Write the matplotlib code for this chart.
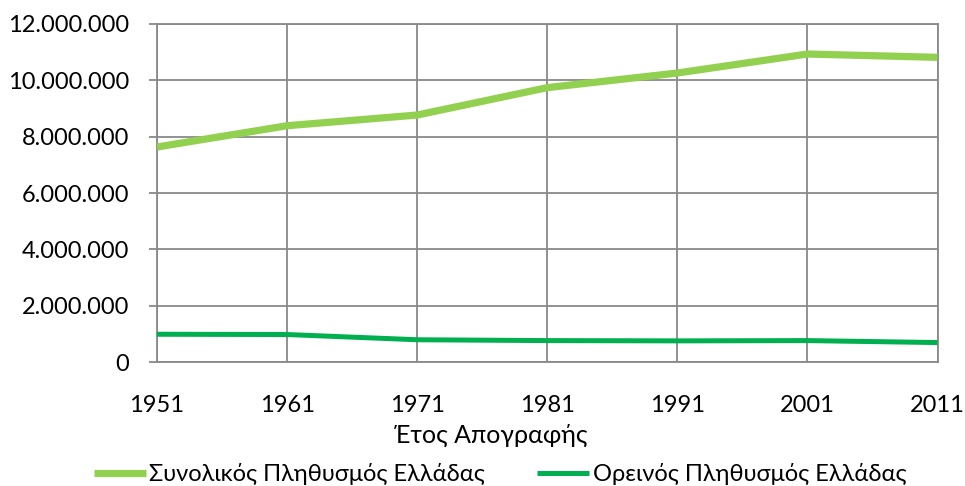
import matplotlib
matplotlib.use("Agg")
import matplotlib.pyplot as plt
from matplotlib.ticker import FuncFormatter

years = [1951, 1961, 1971, 1981, 1991, 2001, 2011]
total_pop = [7632801, 8388553, 8768641, 9740417, 10259900, 10934097, 10816286]
mountain_pop = [985000, 975000, 790000, 760000, 750000, 760000, 690000]
series_names = ["Συνολικός Πληθυσμός Ελλάδας", "Ορεινός Πληθυσμός Ελλάδας"]
x_label = "Έτος Απογραφής"

plt.rcParams['font.family'] = ['Lato', 'DejaVu Sans']
FS = 17

W, H = 965, 486
fig = plt.figure(figsize=(W / 100, H / 100), dpi=100)
ax = fig.add_axes([157 / W, 1 - 362 / H, (937.5 - 157) / W, (362 - 24) / H])

ax.plot(years, total_pop, color="#92D050", linewidth=5.2, solid_capstyle="butt", label=series_names[0], zorder=3)
ax.plot(years, mountain_pop, color="#00B050", linewidth=3.6, solid_capstyle="butt", label=series_names[1], zorder=3)

ax.set_xlim(1951, 2011)
ax.set_ylim(0, 12000000)
ax.set_xticks(years)
ax.set_yticks(range(0, 12000001, 2000000))
ax.yaxis.set_major_formatter(FuncFormatter(lambda v, p: f"{int(v):,}".replace(",", ".")))

ax.grid(True, color="#898989", linewidth=1.3)
ax.set_axisbelow(True)
for s in ax.spines.values():
    s.set_color("#898989")
    s.set_linewidth(1.3)

ax.tick_params(axis='y', length=6, width=1.3, color="#898989", labelsize=FS, pad=14)
ax.tick_params(axis='x', length=0, labelsize=FS, pad=24)

fig.text(491 / W, 1 - 443 / H, x_label, fontsize=18, ha='center', va='baseline')

fig.legend(loc="center", bbox_to_anchor=(500 / W, 1 - 474 / H), ncol=2, frameon=False,
           fontsize=FS, handlelength=2.2, handletextpad=0.15, columnspacing=2.2,
           borderpad=0, borderaxespad=0)

fig.savefig("out.png", dpi=100)
